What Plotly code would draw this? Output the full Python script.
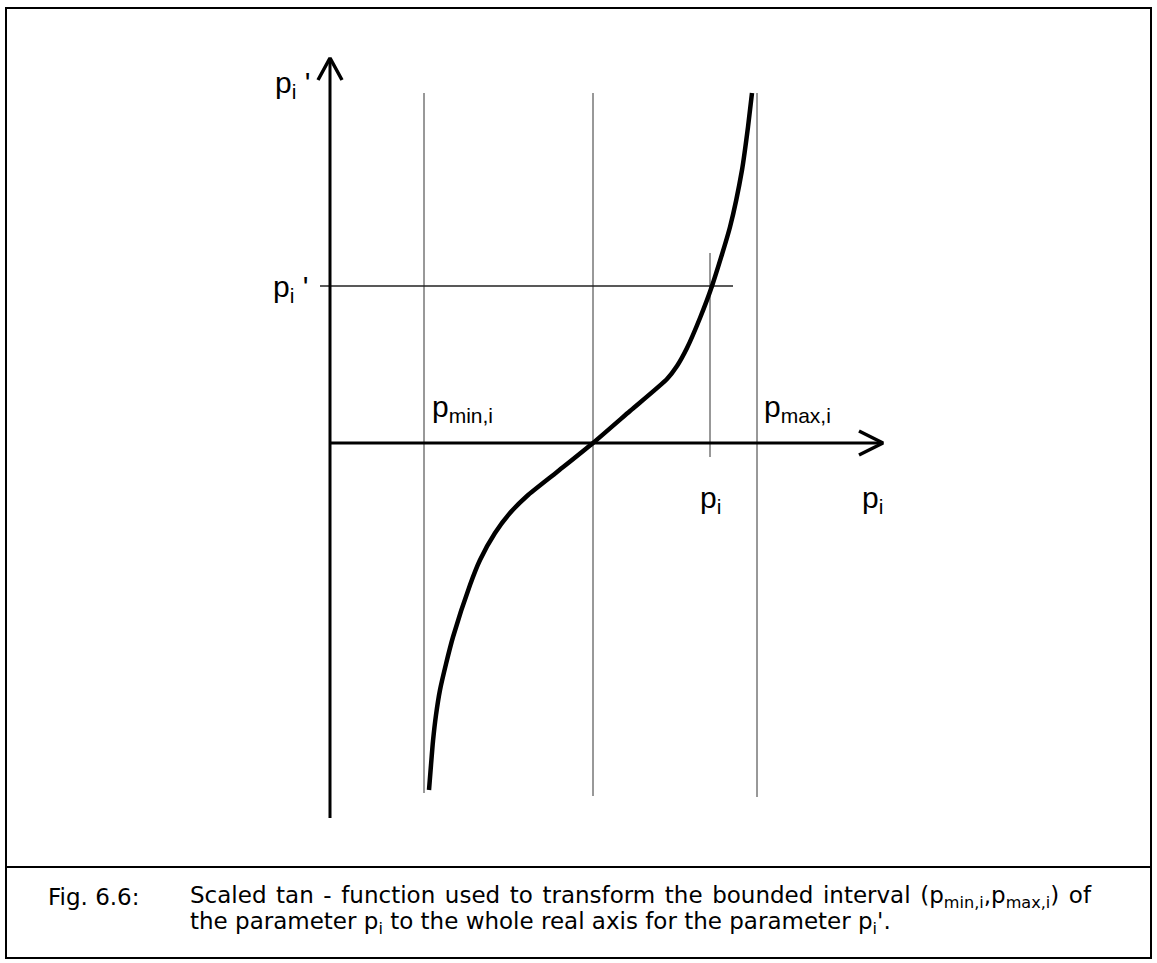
import plotly.graph_objects as go

# Scaled tan curve p_i' = f(p_i), sampled along the drawn line.
# Origin sits where the two axes cross; one unit equals one screen pixel.
curve_x = [99, 101, 103, 106, 110, 116, 123, 140, 150, 165, 180, 197, 227, 263,
           300, 337, 347, 357, 370, 382, 400, 412, 418, 422]
curve_y = [-347, -322, -298, -272, -247, -221, -194, -142, -117, -90, -70, -53, -29, 0,
           32, 64, 77, 95, 125, 157, 216, 273, 316, 350]

# Vertical guides: p_min,i, the centre of the interval, p_max,i
guide_x = [94, 263, 427]
guide_top = [350, 350, 350]
guide_bottom = [-350, -353, -354]

# The chosen parameter p_i and its transformed value p_i'
p_i = 380
p_i_prime = 157
p_i_span = [190, -14]          # short vertical marker at p_i
p_i_prime_span = [-10, 403]    # horizontal marker at p_i'

# Axes extents and arrow heads
y_axis = [-375, 385]
x_axis = [0, 553]
arrow_back = 22
arrow_half = 12

LABEL_FONT = "Liberation Sans, Arial, Helvetica, sans-serif"
CAPTION_FONT = "DejaVu Sans, Verdana, sans-serif"

caption_line1 = ["Scaled", "tan", "-", "function", "used", "to", "transform", "the",
                 "bounded", "interval", "(p<sub>min,i</sub>,p<sub>max,i</sub>)", "of"]
caption_line2 = "the parameter p<sub>i</sub> to the whole real axis for the parameter p<sub>i</sub>'."

fig = go.Figure()

# thin guide lines
for gx, gt, gb in zip(guide_x, guide_top, guide_bottom):
    fig.add_trace(go.Scatter(x=[gx, gx], y=[gt, gb], mode="lines",
                             line=dict(color="#333333", width=1), hoverinfo="skip"))
fig.add_trace(go.Scatter(x=[p_i, p_i], y=p_i_span, mode="lines",
                         line=dict(color="#333333", width=1), hoverinfo="skip"))
fig.add_trace(go.Scatter(x=p_i_prime_span, y=[p_i_prime, p_i_prime], mode="lines",
                         line=dict(color="#222222", width=1.3), hoverinfo="skip"))

# y axis with open arrow head
fig.add_trace(go.Scatter(x=[0, 0], y=y_axis, mode="lines",
                         line=dict(color="black", width=3), hoverinfo="skip"))
fig.add_trace(go.Scatter(x=[-arrow_half, 0, arrow_half],
                         y=[y_axis[1] - arrow_back, y_axis[1], y_axis[1] - arrow_back],
                         mode="lines", line=dict(color="black", width=3.5), hoverinfo="skip"))

# x axis with open arrow head
fig.add_trace(go.Scatter(x=x_axis, y=[0, 0], mode="lines",
                         line=dict(color="black", width=3), hoverinfo="skip"))
fig.add_trace(go.Scatter(x=[x_axis[1] - arrow_back - 2, x_axis[1], x_axis[1] - arrow_back - 2],
                         y=[arrow_half, 0, -arrow_half],
                         mode="lines", line=dict(color="black", width=3.5), hoverinfo="skip"))

# the scaled tan function
fig.add_trace(go.Scatter(x=curve_x, y=curve_y, mode="lines",
                         line=dict(color="black", width=4.5, shape="spline", smoothing=0.6),
                         hoverinfo="skip"))

label_font = dict(family=LABEL_FONT, size=30, color="black")
cap_font = dict(family=CAPTION_FONT, size=23, color="black")

labels = [
    (-57, 359, "p<sub>i</sub> '"),
    (-59, 155, "p<sub>i</sub> '"),
    (100, 35, "p<sub>min,i</sub>"),
    (432, 35, "p<sub>max,i</sub>"),
    (368, -56, "p<sub>i</sub>"),
    (530, -56, "p<sub>i</sub>"),
]
for lx, ly, txt in labels:
    fig.add_annotation(x=lx, y=ly, text=txt, showarrow=False, xanchor="left",
                       yanchor="middle", font=label_font)

# caption (first line slightly justified with hair spaces)
fig.add_annotation(x=-284, y=-454, text="Fig. 6.6:", showarrow=False,
                   xanchor="left", yanchor="middle", font=cap_font)
fig.add_annotation(x=-142, y=-454, text=" \u200a".join(caption_line1),
                   showarrow=False, xanchor="left", yanchor="middle", font=cap_font)
fig.add_annotation(x=-142, y=-480, text=caption_line2,
                   showarrow=False, xanchor="left", yanchor="middle", font=cap_font)

# frame and caption separator
fig.add_shape(type="rect", x0=-324, x1=821, y0=435, y1=-515,
              line=dict(color="black", width=2), layer="below")
fig.add_shape(type="line", x0=-324, x1=821, y0=-424, y1=-424,
              line=dict(color="black", width=2), layer="below")

fig.update_layout(
    width=1157, height=963,
    margin=dict(l=0, r=0, t=0, b=0),
    paper_bgcolor="white", plot_bgcolor="white",
    showlegend=False,
    xaxis=dict(range=[-330, 827], visible=False, fixedrange=True),
    yaxis=dict(range=[-520, 443], visible=False, fixedrange=True),
)

fig.write_html("out.html")
